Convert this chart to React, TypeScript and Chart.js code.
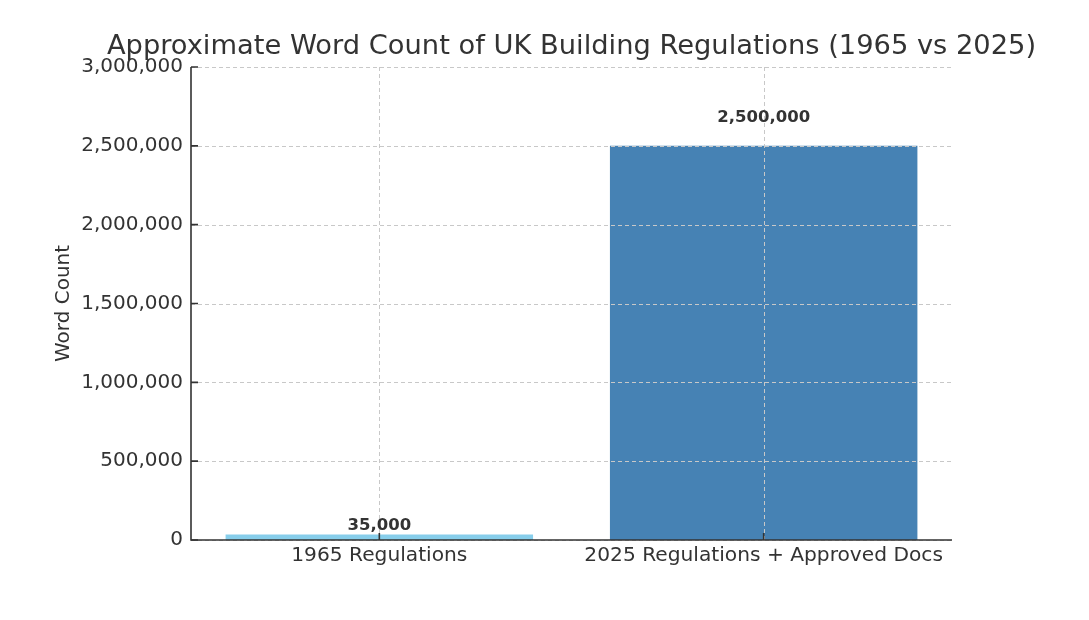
import React, { useEffect, useRef } from "react";
import { Chart, registerables } from "chart.js";

Chart.register(...registerables);

const categories: string[] = ["1965 Regulations", "2025 Regulations + Approved Docs"];
const wordCounts: number[] = [35000, 2500000];
const barColors: string[] = ["#87CEEB", "#4682B4"];
const yTickValues: number[] = [0, 500000, 1000000, 1500000, 2000000, 2500000, 3000000];
const chartTitle = "Approximate Word Count of UK Building Regulations (1965 vs 2025)";
const yAxisTitle = "Word Count";

const FONT = "'DejaVu Sans', 'Liberation Sans', sans-serif";
const INK = "#333333";
const GRID = "#c8c8c8";

const fmt = (v: number) => v.toLocaleString("en-US");

const gridPlugin = {
  id: "mplGrid",
  afterDatasetsDraw(chart: any) {
    const { ctx, scales } = chart;
    const xs = scales.x;
    const ys = scales.y;
    const a = chart.chartArea;
    ctx.save();
    // dashed grid over the bars
    ctx.strokeStyle = GRID;
    ctx.lineWidth = 1;
    ctx.setLineDash([4, 3]);
    ctx.beginPath();
    yTickValues.forEach((v) => {
      const py = Math.round(ys.getPixelForValue(v)) + 0.5;
      ctx.moveTo(a.left, py);
      ctx.lineTo(a.right, py);
    });
    categories.forEach((_, i) => {
      const px = Math.round(xs.getPixelForValue(i)) + 0.5;
      ctx.moveTo(px, a.top);
      ctx.lineTo(px, a.bottom);
    });
    ctx.stroke();
    ctx.setLineDash([]);
    // spines (left and bottom)
    ctx.strokeStyle = INK;
    ctx.lineWidth = 1.6;
    ctx.beginPath();
    ctx.moveTo(a.left, a.top);
    ctx.lineTo(a.left, a.bottom);
    ctx.lineTo(a.right, a.bottom);
    ctx.stroke();
    // inward tick marks
    ctx.beginPath();
    yTickValues.forEach((v) => {
      const py = ys.getPixelForValue(v);
      ctx.moveTo(a.left, py);
      ctx.lineTo(a.left + 7, py);
    });
    categories.forEach((_, i) => {
      const px = xs.getPixelForValue(i);
      ctx.moveTo(px, a.bottom);
      ctx.lineTo(px, a.bottom - 7);
    });
    ctx.stroke();
    ctx.restore();
  },
  afterDraw(chart: any) {
    const { ctx, scales } = chart;
    const ys = scales.y;
    const a = chart.chartArea;
    ctx.save();
    // value labels
    ctx.fillStyle = INK;
    ctx.font = `bold 16.5px ${FONT}`;
    ctx.textAlign = "center";
    ctx.textBaseline = "bottom";
    const meta = chart.getDatasetMeta(0);
    meta.data.forEach((bar: any, i: number) => {
      const v = wordCounts[i];
      ctx.fillText(fmt(v), bar.x, ys.getPixelForValue(v * 1.05));
    });
    // title
    ctx.font = `27.3px ${FONT}`;
    ctx.textBaseline = "middle";
    ctx.fillText(chartTitle, (a.left + a.right) / 2, 46.5);
    ctx.restore();
  },
};

export default function App() {
  const ref = useRef<HTMLCanvasElement | null>(null);

  useEffect(() => {
    if (!ref.current) return;
    const chart = new Chart(ref.current, {
      type: "bar",
      data: {
        datasets: [
          {
            data: wordCounts.map((v, i) => ({ x: i, y: v })),
            backgroundColor: barColors,
            borderWidth: 0,
            barPercentage: 0.8,
            categoryPercentage: 1.0,
          },
        ],
      },
      options: {
        animation: false,
        responsive: false,
        devicePixelRatio: 1,
        layout: { padding: { left: 0, right: 137, top: 67, bottom: 0 } },
        plugins: {
          legend: { display: false },
          tooltip: { enabled: false },
          title: { display: false },
        },
        scales: {
          x: {
            type: "linear",
            min: -0.49,
            max: 1.49,
            offset: false,
            afterBuildTicks(scale: any) {
              scale.ticks = categories.map((_, i) => ({ value: i }));
            },
            grid: { display: false, drawTicks: false },
            border: { display: false },
            ticks: {
              color: INK,
              padding: 4,
              maxRotation: 0,
              autoSkip: false,
              font: { family: FONT, size: 20.2 },
              callback: (v: any) => categories[Number(v)] ?? "",
            },
            afterFit(scale: any) {
              scale.height = 80;
            },
          },
          y: {
            min: 0,
            max: 3000000,
            afterBuildTicks(scale: any) {
              scale.ticks = yTickValues.map((v) => ({ value: v }));
            },
            grid: { display: false, drawTicks: false },
            border: { display: false },
            ticks: {
              color: INK,
              padding: 8,
              font: { family: FONT, size: 20 },
              callback: (v: any) => fmt(Number(v)),
            },
            title: {
              display: true,
              text: yAxisTitle,
              color: INK,
              font: { family: FONT, size: 20 },
              padding: { top: 51.3, bottom: 0 },
            },
            afterFit(scale: any) {
              scale.width = 191;
            },
          },
        },
      },
      plugins: [gridPlugin],
    });
    return () => chart.destroy();
  }, []);

  return (
    <canvas
      ref={ref}
      width={1089}
      height={620}
      style={{ position: "fixed", left: 0, top: 0, width: 1089, height: 620, display: "block", background: "#ffffff" }}
    />
  );
}
